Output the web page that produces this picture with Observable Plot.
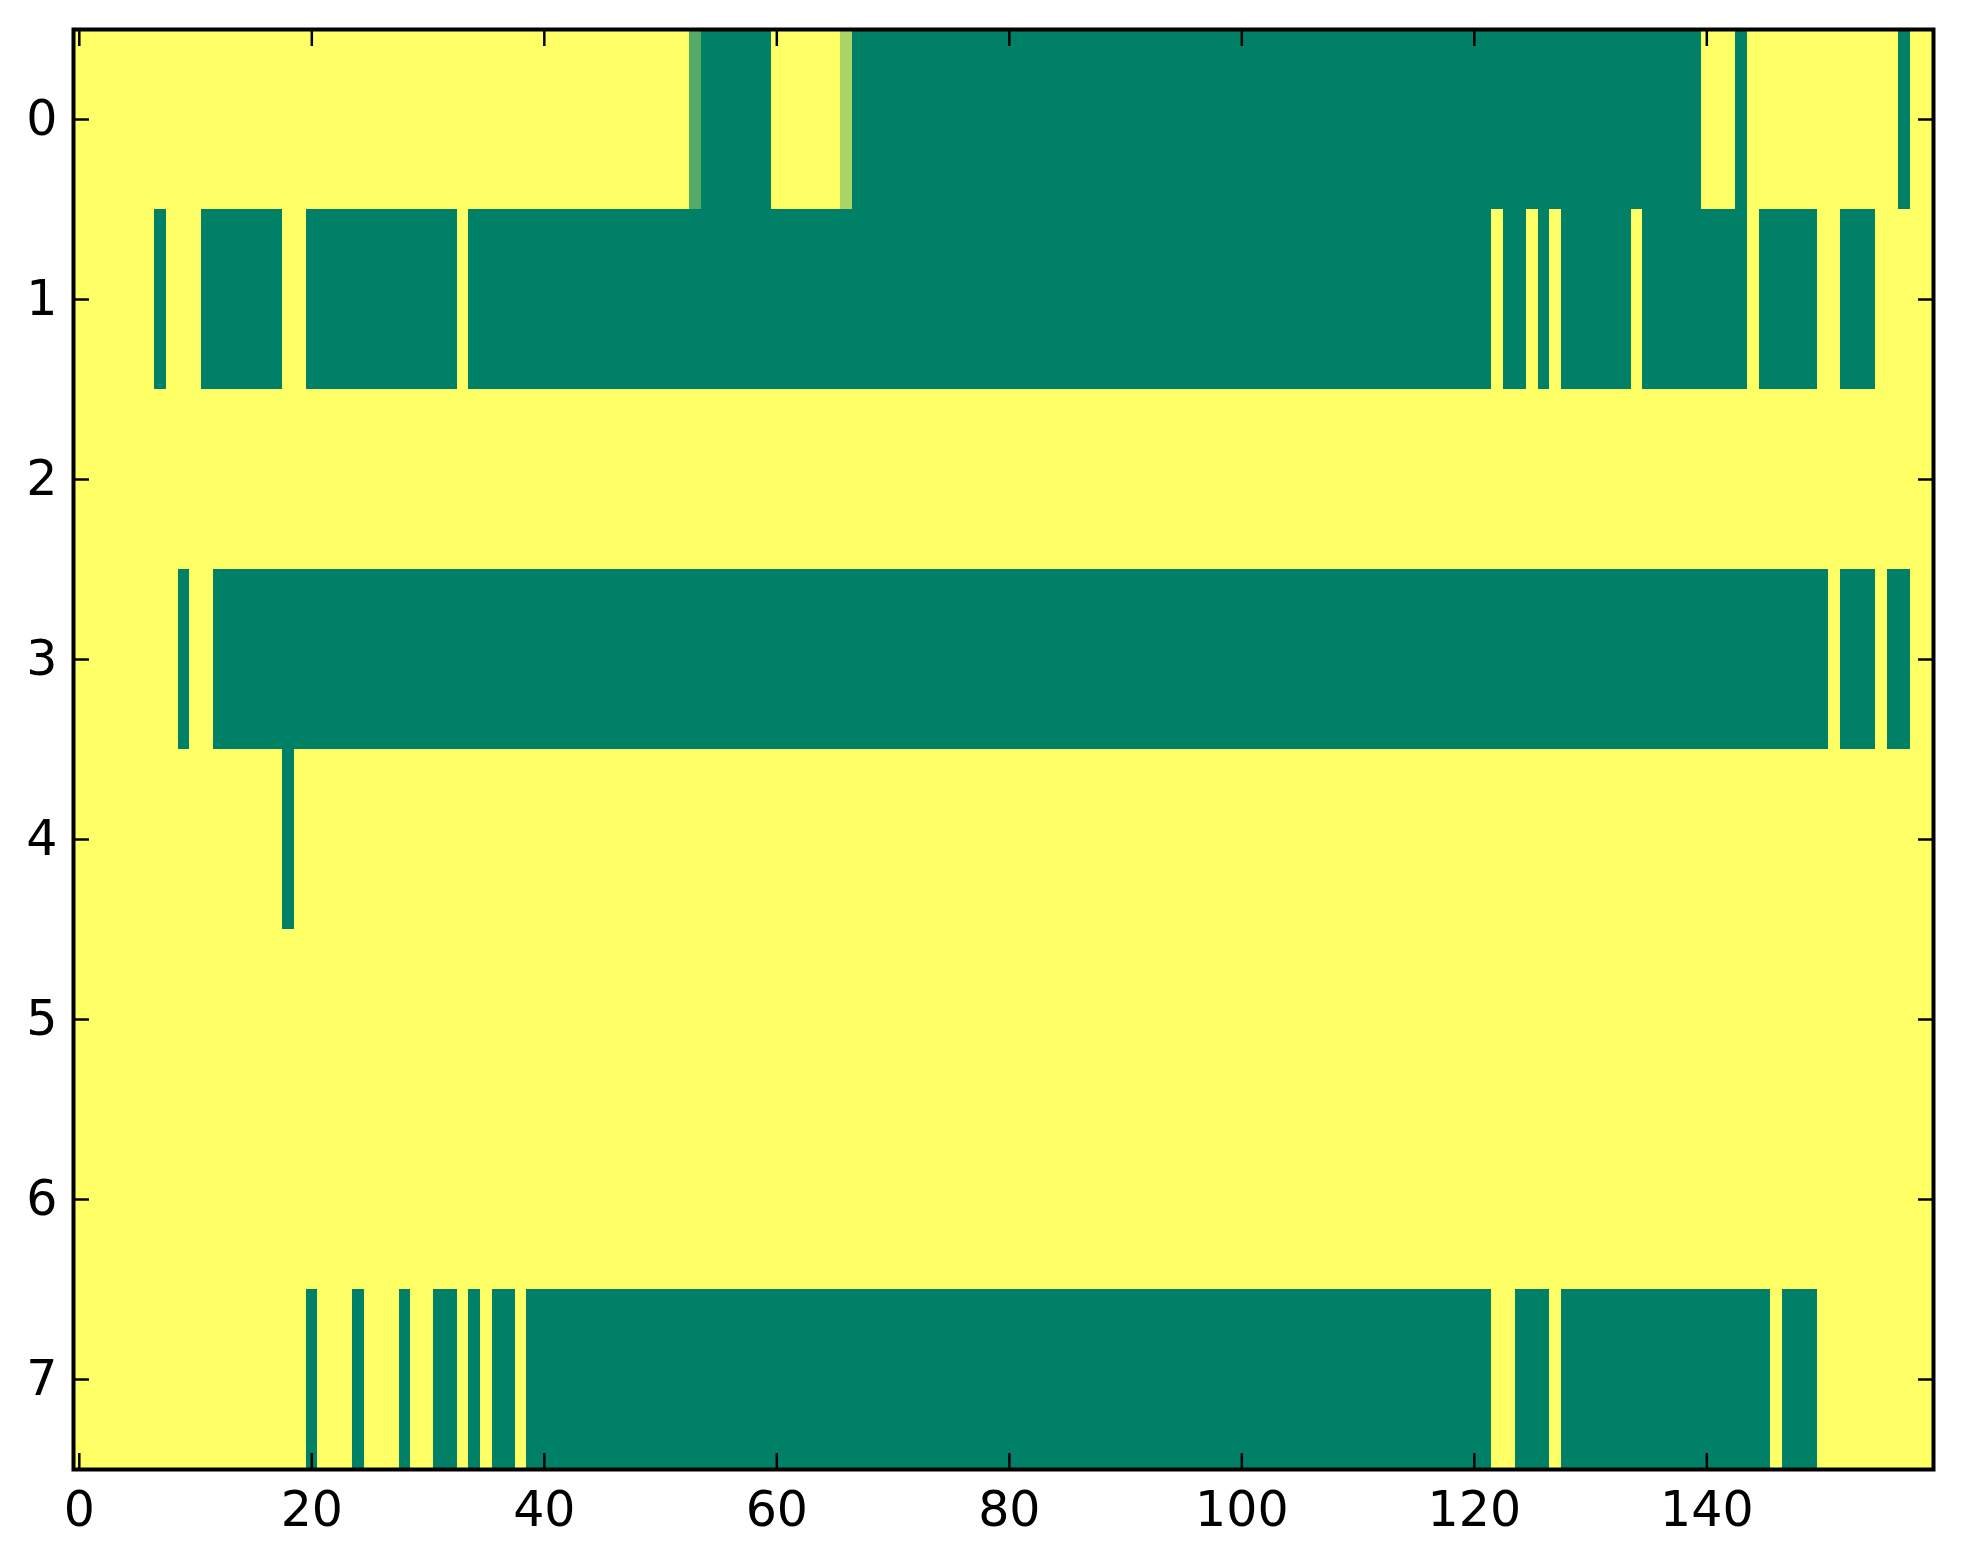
<!DOCTYPE html>
<html><head><meta charset="utf-8">
<script src="https://cdn.jsdelivr.net/npm/d3@7"></script>
<script src="https://cdn.jsdelivr.net/npm/@observablehq/plot@0.6"></script>
<style>html,body{margin:0;padding:0;background:#fff}</style>
</head><body><div id="chart"></div>
<script>
// tick labels
const rowTicks = [0, 1, 2, 3, 4, 5, 6, 7];
const xTicks = [0, 20, 40, 60, 80, 100, 120, 140];
const nCols = 160;

// each row: runs of [startColumn, endColumn, value] (0 = yellow, 1 = green)
const row0 = [[0,52,0],[53,53,0.667],[54,59,1],[60,65,0],[66,66,0.333],[67,139,1],[140,142,0],[143,143,1],[144,156,0],[157,157,1],[158,159,0]];
const row1 = [[0,6,0],[7,7,1],[8,10,0],[11,17,1],[18,19,0],[20,32,1],[33,33,0],[34,121,1],[122,122,0],[123,124,1],[125,125,0],[126,126,1],[127,127,0],[128,133,1],[134,134,0],[135,143,1],[144,144,0],[145,149,1],[150,151,0],[152,154,1],[155,159,0]];
const row2 = [[0,159,0]];
const row3 = [[0,8,0],[9,9,1],[10,11,0],[12,150,1],[151,151,0],[152,154,1],[155,155,0],[156,157,1],[158,159,0]];
const row4 = [[0,17,0],[18,18,1],[19,159,0]];
const row5 = [[0,159,0]];
const row6 = [[0,159,0]];
const row7 = [[0,19,0],[20,20,1],[21,23,0],[24,24,1],[25,27,0],[28,28,1],[29,30,0],[31,32,1],[33,33,0],[34,34,1],[35,35,0],[36,37,1],[38,38,0],[39,121,1],[122,123,0],[124,126,1],[127,127,0],[128,145,1],[146,146,0],[147,149,1],[150,159,0]];

const rows = [row0, row1, row2, row3, row4, row5, row6, row7];
const runs = rows.flatMap((r, i) => r.map(([s, e, v]) => ({row: i, start: s, end: e, value: v})));

const chart = Plot.plot({
  width: 1963,
  height: 1564,
  marginLeft: 73,
  marginRight: 30,
  marginTop: 29,
  marginBottom: 95,
  style: {fontFamily: "'DejaVu Sans', sans-serif", fontSize: "49px", background: "#fff", color: "#000"},
  x: {domain: [-0.5, nCols - 0.5]},
  y: {domain: [-0.5, rows.length - 0.5], reverse: true},
  color: {type: "linear", domain: [0, 1], range: ["#ffff66", "#008066"], interpolate: "rgb"},
  marks: [
    Plot.rect(runs, {
      x1: d => d.start - 0.5, x2: d => d.end + 0.5,
      y1: d => d.row - 0.5, y2: d => d.row + 0.5,
      fill: "value", shapeRendering: "crispEdges"
    }),
    Plot.axisX(xTicks, {anchor: "bottom", tickSize: -16, fill: "none", strokeWidth: 2.5, label: null}),
    Plot.axisX(xTicks, {anchor: "top", tickSize: -16, fill: "none", strokeWidth: 2.5, label: null}),
    Plot.axisX(xTicks, {anchor: "bottom", tickSize: 0, tickPadding: 22, fontSize: 49, label: null, tickFormat: d => String(d)}),
    Plot.axisY(rowTicks, {anchor: "left", tickSize: -16, fill: "none", strokeWidth: 2.5, label: null}),
    Plot.axisY(rowTicks, {anchor: "right", tickSize: -16, fill: "none", strokeWidth: 2.5, label: null}),
    Plot.axisY(rowTicks, {anchor: "left", tickSize: 0, tickPadding: 16, fontSize: 49, label: null, tickFormat: d => String(d)}),
    Plot.frame({stroke: "#000", strokeWidth: 4})
  ]
});
document.getElementById("chart").append(chart);
</script>
</body></html>
